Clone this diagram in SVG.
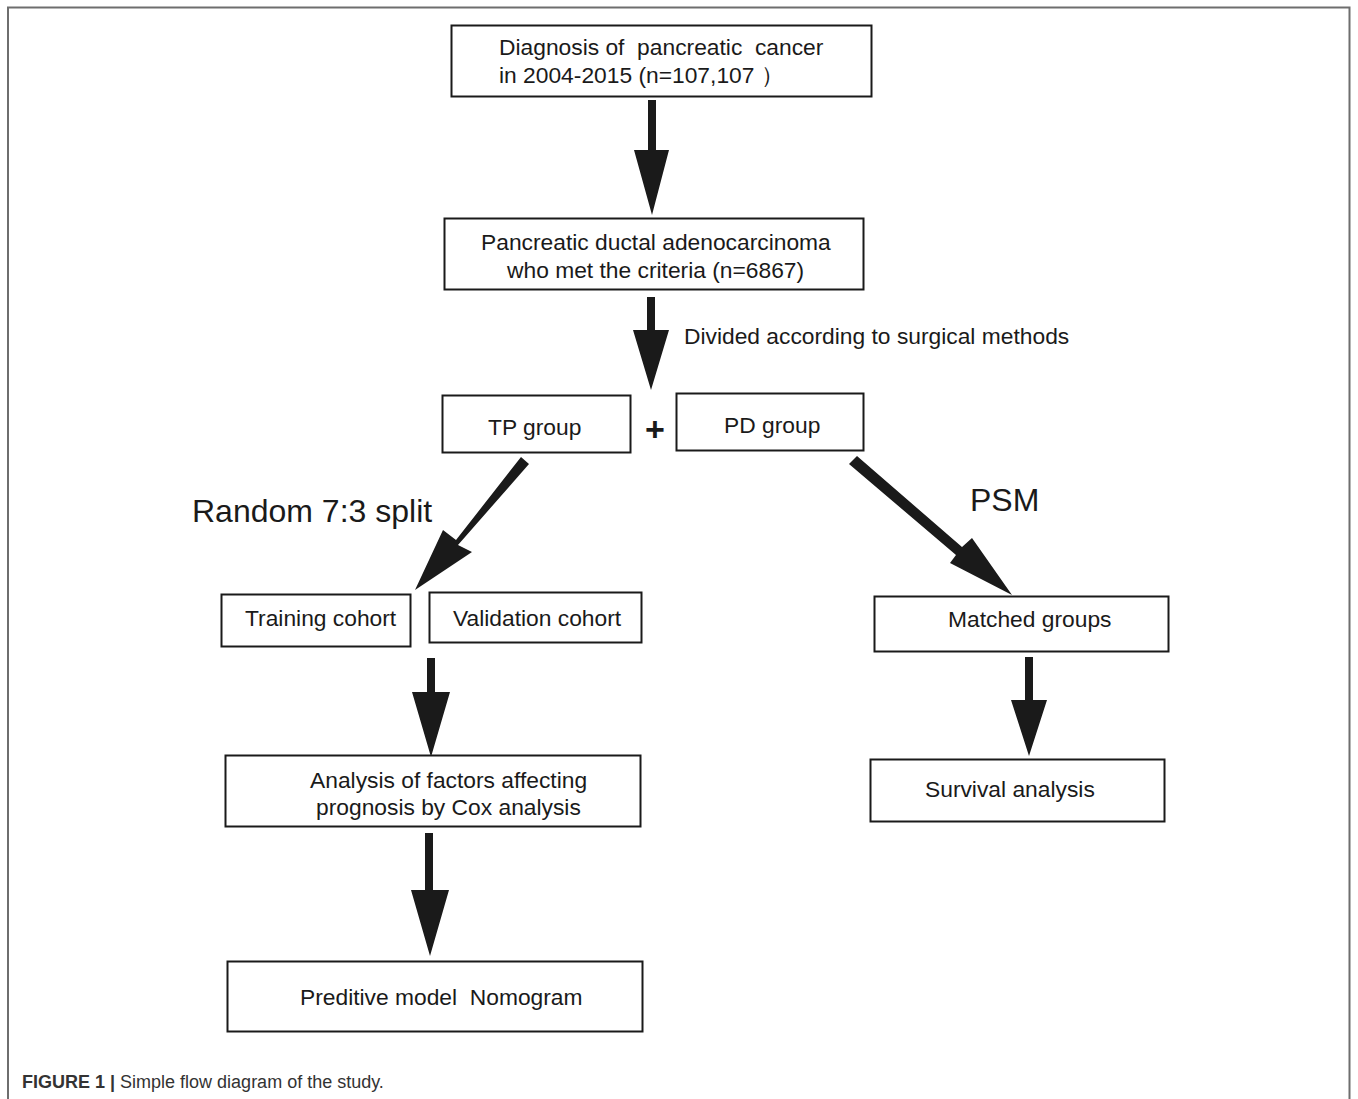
<svg xmlns="http://www.w3.org/2000/svg" width="1358" height="1099" viewBox="0 0 1358 1099">
<style>
.box{fill:#fff;stroke:#1a1a1a;stroke-width:2}
.t{font-family:"Liberation Sans",Arial,sans-serif;font-size:22.8px;fill:#1a1a1a;white-space:pre}
.big{font-family:"Liberation Sans",Arial,sans-serif;font-size:32px;fill:#1a1a1a}
.arr{fill:#1a1a1a}
.cap{font-family:"Liberation Sans",Arial,sans-serif;font-size:18px;fill:#333}
</style>
<rect width="1358" height="1099" fill="#fff"/>
<path d="M8,1099 V7.5 H1349.5 V1099" fill="none" stroke="#6e6e6e" stroke-width="2"/>
<g id="connectors">
<path class="arr" d="M648,100 H656 V150 H669 L652,215 L634,150 H648 Z"/>
<path class="arr" d="M647,297 H655 V330 H669 L651,390 L633,330 H647 Z"/>
<path class="arr" d="M521,457 L529,464 L458,545 L472,552 L415,590 L443,530 L456,540 Z"/>
<path class="arr" d="M849,464 L857,456 L962,547 L972,538 L1012,595 L950,563 L956,555 Z"/>
<path class="arr" d="M427,658 H435 V692 H450 L431,757 L412,692 H427 Z"/>
<path class="arr" d="M425,833 H433 V890 H449 L430,956 L411,890 H425 Z"/>
<path class="arr" d="M1025,657 H1033 V700 H1047 L1029,756 L1011,700 H1025 Z"/>
</g>
<g id="n1"><rect class="box" x="451.5" y="25.5" width="420" height="71"/>
<text class="t" x="499" y="55" xml:space="preserve">Diagnosis of  pancreatic  cancer</text>
<text class="t" x="499" y="83">in 2004-2015 (n=107,107 ）</text></g>
<g id="n2"><rect class="box" x="444.5" y="218.5" width="419" height="71"/>
<text class="t" x="481" y="250">Pancreatic ductal adenocarcinoma</text>
<text class="t" x="507" y="278">who met the criteria (n=6867)</text></g>
<text class="t" x="684" y="344">Divided according to surgical methods</text>
<g id="n3"><rect class="box" x="442.5" y="395.5" width="188" height="57"/>
<text class="t" x="488" y="435">TP group</text></g>
<text x="655" y="441" text-anchor="middle" style="font-family:'Liberation Sans',Arial,sans-serif;font-size:34px;font-weight:bold;fill:#1a1a1a">+</text>
<g id="n4"><rect class="box" x="676.5" y="393.5" width="187" height="57"/>
<text class="t" x="724" y="433">PD group</text></g>
<text class="big" x="192" y="522">Random 7:3 split</text>
<text class="big" x="970" y="511">PSM</text>
<g id="n5"><rect class="box" x="221.5" y="594.5" width="189" height="52"/>
<text class="t" x="245" y="626">Training cohort</text></g>
<g id="n6"><rect class="box" x="429.5" y="592.5" width="212" height="50"/>
<text class="t" x="453" y="626">Validation cohort</text></g>
<g id="n7"><rect class="box" x="874.5" y="596.5" width="294" height="55"/>
<text class="t" x="948" y="627">Matched groups</text></g>
<g id="n8"><rect class="box" x="225.5" y="755.5" width="415" height="71"/>
<text class="t" x="310" y="788">Analysis of factors affecting</text>
<text class="t" x="316" y="815">prognosis by Cox analysis</text></g>
<g id="n9"><rect class="box" x="870.5" y="759.5" width="294" height="62"/>
<text class="t" x="925" y="797">Survival analysis</text></g>
<g id="n10"><rect class="box" x="227.5" y="961.5" width="415" height="70"/>
<text class="t" x="300" y="1005" xml:space="preserve">Preditive model  Nomogram</text></g>
<text class="cap" x="22" y="1088"><tspan font-weight="bold">FIGURE 1 |</tspan> Simple flow diagram of the study.</text>
</svg>
